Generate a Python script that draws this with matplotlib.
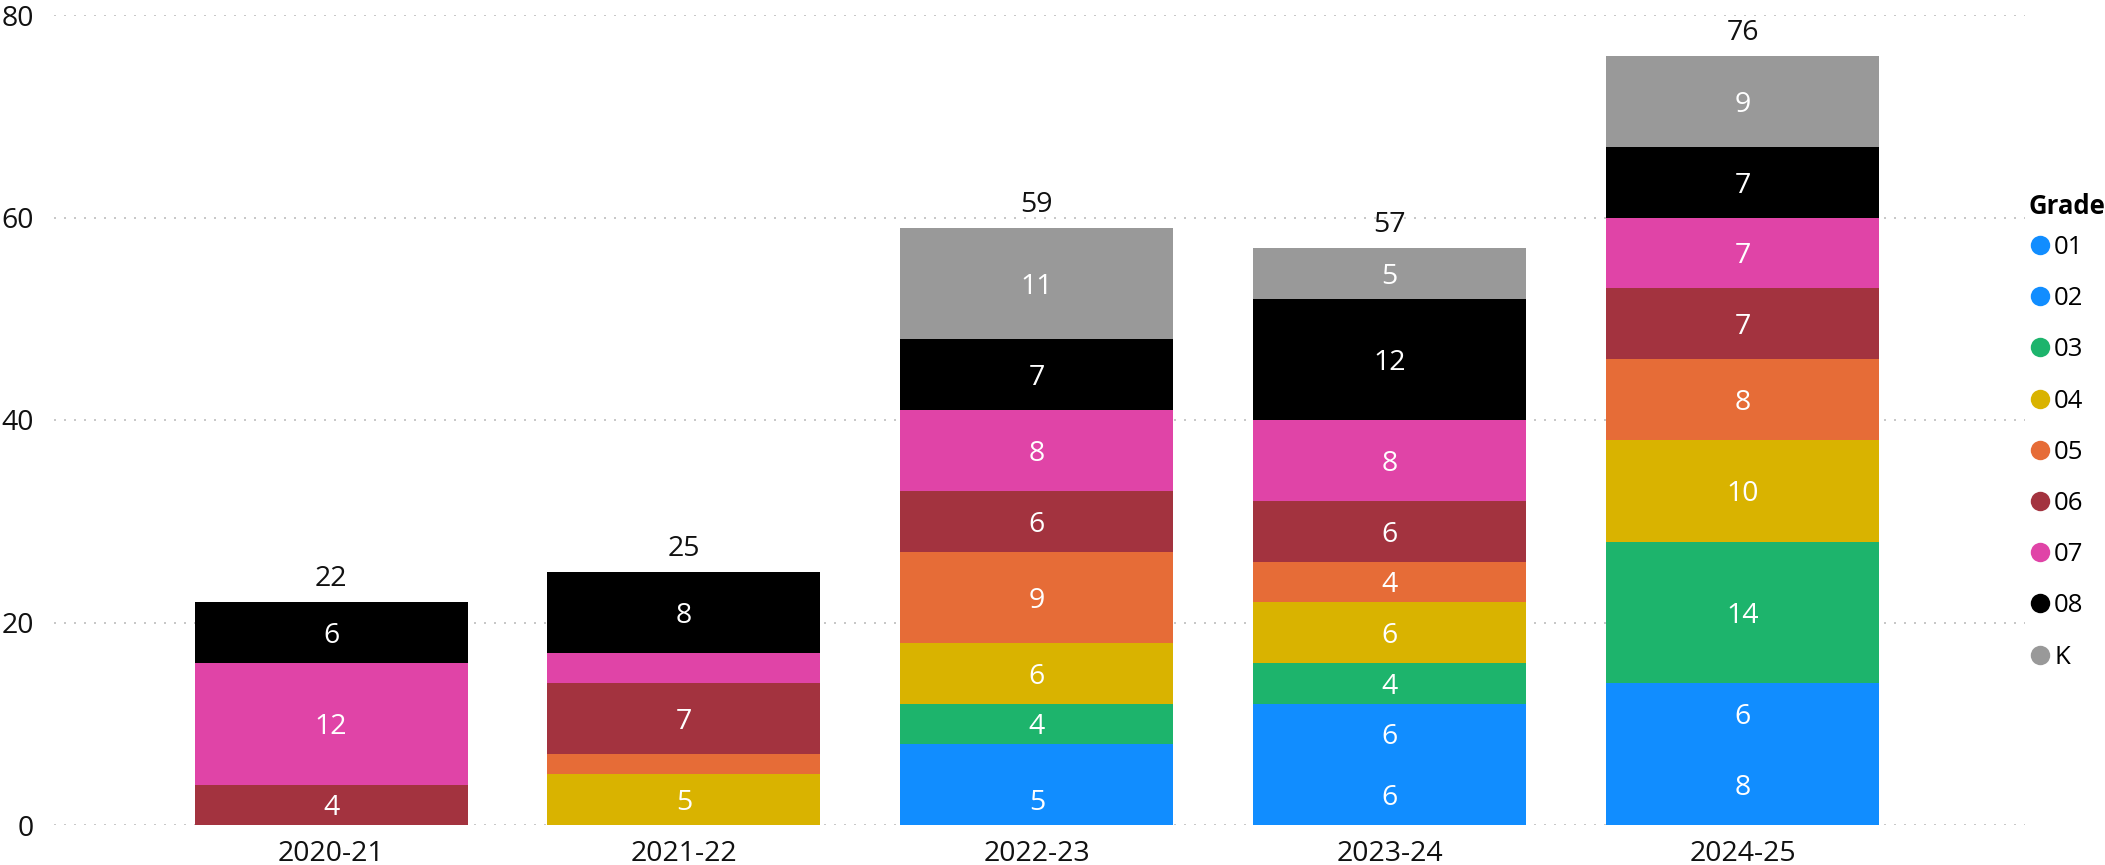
import matplotlib
matplotlib.use("Agg")
import matplotlib.pyplot as plt
from matplotlib.lines import Line2D
import numpy as np

plt.rcParams['font.family'] = ['Open Sans', 'DejaVu Sans']

years = ['2020-21', '2021-22', '2022-23', '2023-24', '2024-25']
grades = ['01', '02', '03', '04', '05', '06', '07', '08', 'K']
g01 = [0, 0, 5, 6, 8]
g02 = [0, 0, 3, 6, 6]
g03 = [0, 0, 4, 4, 14]
g04 = [0, 5, 6, 6, 10]
g05 = [0, 2, 9, 4, 8]
g06 = [4, 7, 6, 6, 7]
g07 = [12, 3, 8, 8, 7]
g08 = [6, 8, 7, 12, 7]
gK = [0, 0, 11, 5, 9]
series = [g01, g02, g03, g04, g05, g06, g07, g08, gK]
colors = ['#118DFF', '#118DFF', '#1DB46C', '#D9B300', '#E66C37',
          '#A3333F', '#E044A7', '#000000', '#999999']
yticks = [0, 20, 40, 60, 80]

W, H = 2105, 865
fig = plt.figure(figsize=(W / 100, H / 100), dpi=100)
L, R, B, T = 54, 2025, 825, 15
ax = fig.add_axes([L / W, 1 - B / H, (R - L) / W, (B - T) / H])

x = np.arange(len(years))
bottom = np.zeros(len(years))
FS = 20.5
for vals, col in zip(series, colors):
    vals = np.array(vals, dtype=float)
    bars = ax.bar(x, vals, bottom=bottom, width=0.7736, color=col, linewidth=0)
    for xi, b, v in zip(x, bottom, vals):
        if v >= 4:
            ax.text(xi, b + v / 2, f"{int(v)}", ha='center', va='center_baseline',
                    color='white', fontsize=FS)
    bottom = bottom + vals

for xi, tot in zip(x, bottom):
    ax.annotate(f"{int(tot)}", (xi, tot), xytext=(0, 11.5), textcoords='offset points',
                ha='center', va='baseline', fontsize=FS, color='#111111')

ax.set_xlim(-0.785, 4.80)
ax.set_ylim(0, 80)
ax.set_yticks(yticks)
ax.set_xticks(x)
ax.set_xticklabels(years)
ax.tick_params(axis='both', length=0, labelsize=FS, colors='#111111')
ax.tick_params(axis='x', pad=10.5)
ax.tick_params(axis='y', pad=14.5)
for s in ax.spines.values():
    s.set_visible(False)
ax.set_axisbelow(True)
ax.yaxis.grid(True, color='#C8C8C8', linewidth=1.44, linestyle=(0, (1, 4)))
ax.xaxis.grid(False)

fig.text(2029 / W, 1 - 204 / H, 'Grade', fontsize=18.5, fontweight='bold',
         ha='left', va='center_baseline', color='#000000')
handles = [Line2D([], [], marker='o', linestyle='none', markersize=14,
                  markerfacecolor=c, markeredgewidth=0) for c in colors]
leg = fig.legend(handles, grades, loc='upper left',
                 bbox_to_anchor=(2028 / W, 1 - 235 / H), frameon=False,
                 fontsize=18.5, borderpad=0, borderaxespad=0,
                 handlelength=0.9, handletextpad=0.12, labelspacing=1.02)

fig.savefig('out.png', dpi=100)
